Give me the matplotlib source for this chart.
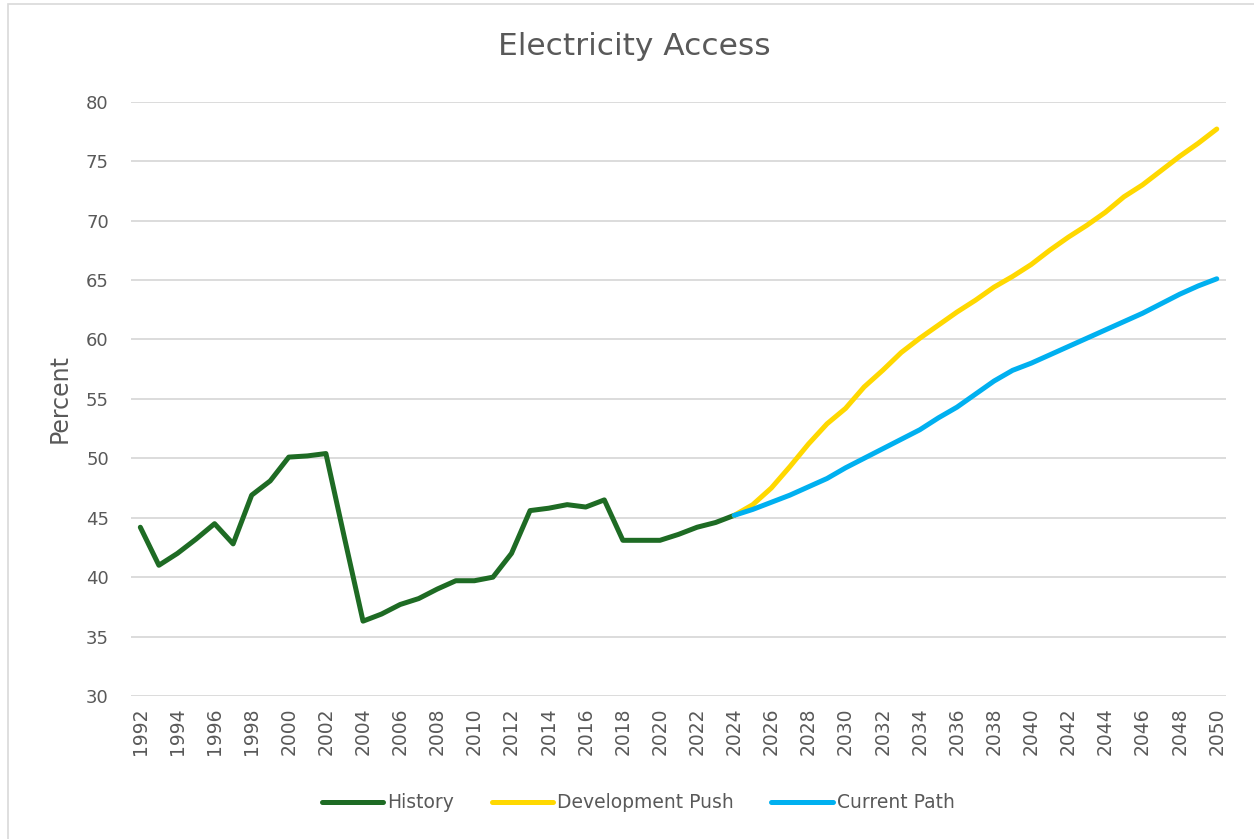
import matplotlib.pyplot as plt
from matplotlib.patches import Rectangle

# Values
history_years = list(range(1992, 2025))
history = [44.2, 41.0, 42.0, 43.2, 44.5, 42.8, 46.9, 48.1, 50.1, 50.2,
           50.4, 43.3, 36.3, 36.9, 37.7, 38.2, 39.0, 39.7, 39.7, 40.0,
           42.0, 45.6, 45.8, 46.1, 45.9, 46.5, 43.1, 43.1, 43.1, 43.6,
           44.2, 44.6, 45.2]

proj_years = list(range(2024, 2051))
development_push = [45.2, 46.1, 47.5, 49.3, 51.2, 52.9, 54.2, 56.0, 57.4, 58.9,
                    60.1, 61.2, 62.3, 63.3, 64.4, 65.3, 66.3, 67.5, 68.6, 69.6,
                    70.7, 72.0, 73.0, 74.2, 75.4, 76.5, 77.7]
current_path = [45.2, 45.7, 46.3, 46.9, 47.6, 48.3, 49.2, 50.0, 50.8, 51.6,
                52.4, 53.4, 54.3, 55.4, 56.5, 57.4, 58.0, 58.7, 59.4, 60.1,
                60.8, 61.5, 62.2, 63.0, 63.8, 64.5, 65.1]

text_color = '#595959'

fig = plt.figure(figsize=(12.54, 8.39), dpi=100)
ax = fig.add_axes([0.1045, 0.1704, 0.8732, 0.7084])

ax.plot(history_years, history, color='#1E6B24', lw=3.6, label='History',
        solid_joinstyle='round', solid_capstyle='round')
ax.plot(proj_years, development_push, color='#FFD800', lw=3.6, label='Development Push',
        solid_joinstyle='round', solid_capstyle='round')
ax.plot(proj_years, current_path, color='#00B0F0', lw=3.6, label='Current Path',
        solid_joinstyle='round', solid_capstyle='round')

ax.set_xlim(1991.5, 2050.5)
ax.set_ylim(30, 80)
ax.set_yticks(range(30, 81, 5))
ax.set_xticks(range(1992, 2051, 2))
ax.set_xticklabels([str(y) for y in range(1992, 2051, 2)], rotation=90)
ax.tick_params(axis='x', length=0, colors=text_color, labelsize=13.5, pad=8)
ax.tick_params(axis='y', length=0, colors=text_color, labelsize=13, pad=16)
ax.grid(axis='y', color='#D9D9D9', lw=1.3)
ax.set_axisbelow(True)
for s in ax.spines.values():
    s.set_visible(False)

ax.set_ylabel('Percent', color=text_color, fontsize=17, labelpad=10)
fig.text(0.506, 0.945, 'Electricity Access', ha='center', va='center',
         fontsize=22.5, color=text_color)

fig.legend(loc='center', bbox_to_anchor=(0.509, 0.043), ncol=3, frameon=False,
           fontsize=13.5, labelcolor=text_color, handlelength=3.3,
           columnspacing=2.0, handletextpad=0.2)

# light chart-area border
fig.patches.append(Rectangle((0.006, -0.01), 1.0, 1.005, transform=fig.transFigure,
                             fill=False, edgecolor='#D9D9D9', lw=1.2))

fig.savefig('out.png', dpi=100)
